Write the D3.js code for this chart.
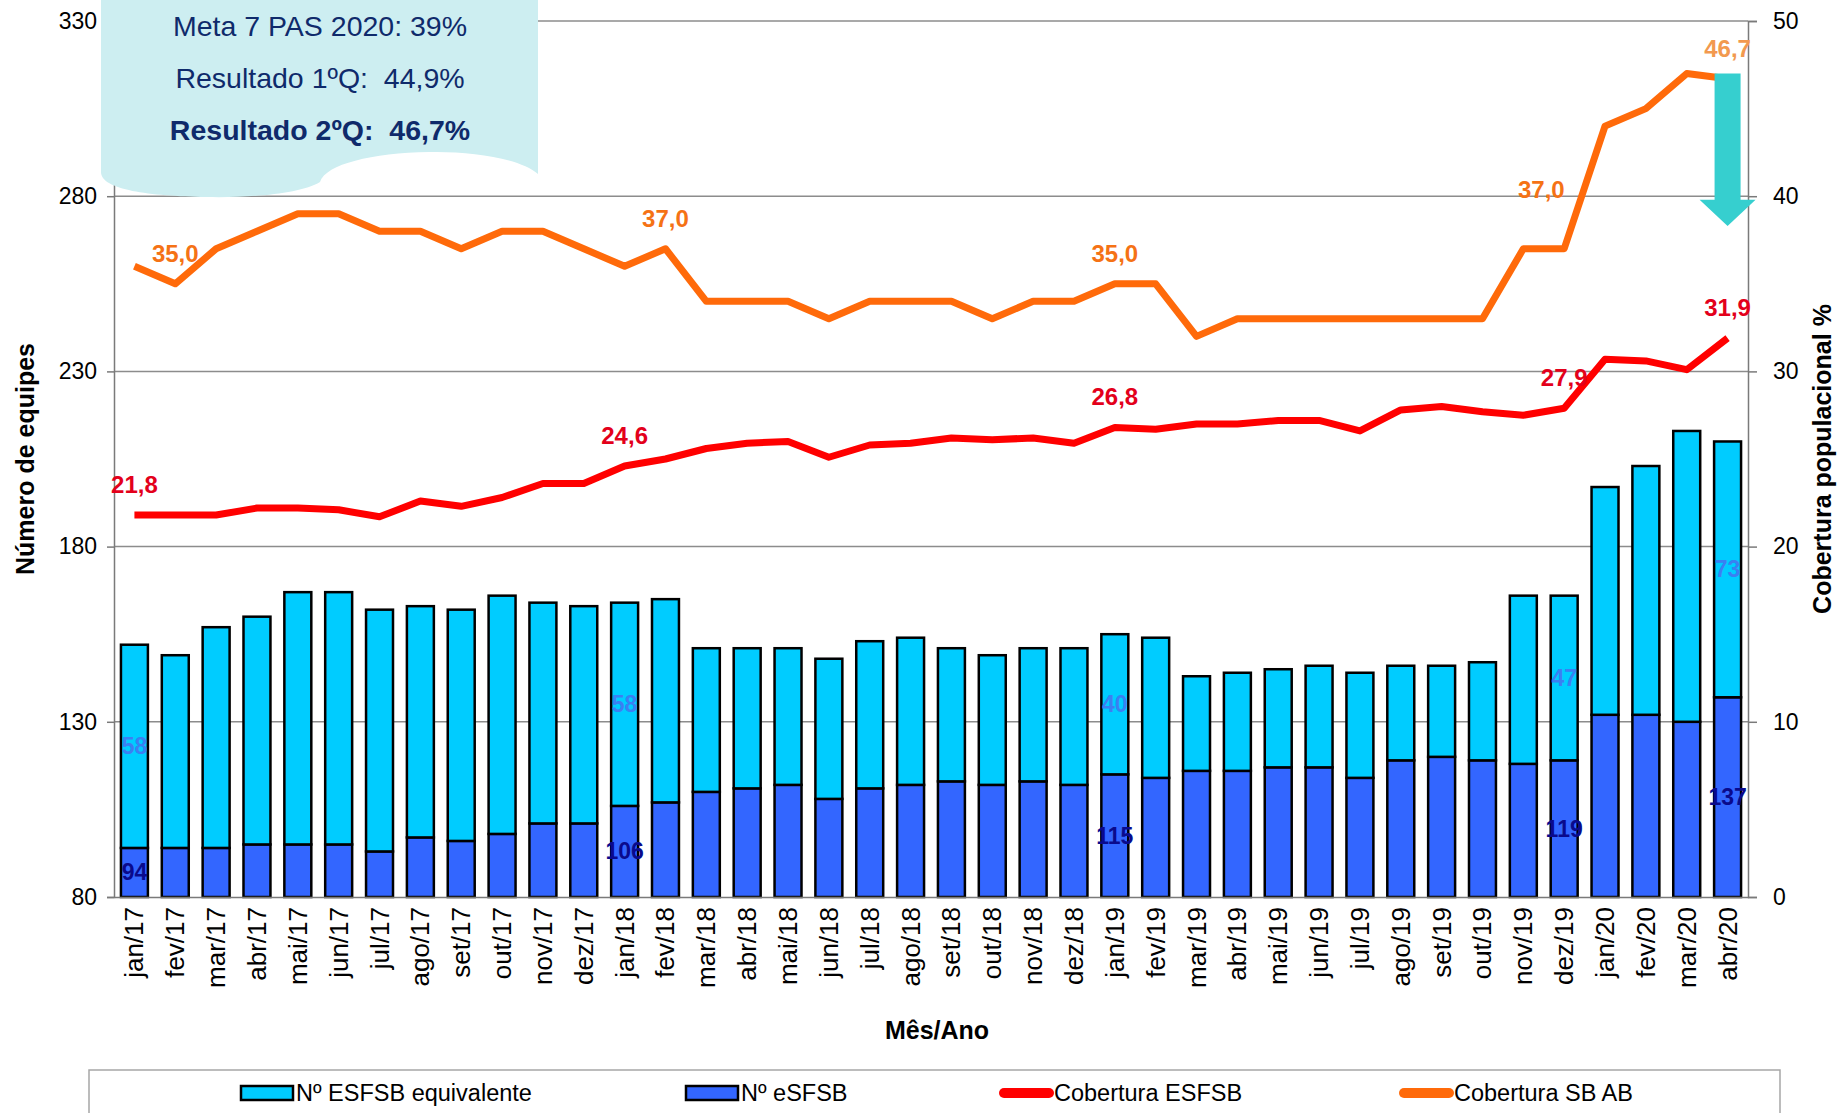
<!DOCTYPE html>
<html>
<head>
<meta charset="utf-8">
<title>Equipes e cobertura</title>
<script src="https://cdn.jsdelivr.net/npm/d3@7/dist/d3.min.js"></script>
<style>
  body { margin: 0; background: #fff; }
  svg { display: block; font-family: "Liberation Sans", Arial, sans-serif; }
</style>
</head>
<body>
<svg width="1843" height="1113" id="mainsvg"></svg>
<script>
// data
const months = ['jan/17','fev/17','mar/17','abr/17','mai/17','jun/17','jul/17','ago/17','set/17','out/17','nov/17','dez/17',
  'jan/18','fev/18','mar/18','abr/18','mai/18','jun/18','jul/18','ago/18','set/18','out/18','nov/18','dez/18',
  'jan/19','fev/19','mar/19','abr/19','mai/19','jun/19','jul/19','ago/19','set/19','out/19','nov/19','dez/19',
  'jan/20','fev/20','mar/20','abr/20'];
const nEsfsb = [94,94,94,95,95,95,93,97,96,98,101,101,106,107,110,111,112,108,111,112,113,112,113,112,
  115,114,116,116,117,117,114,119,120,119,118,119,132,132,130,137];
const nEquivalente = [58,55,63,65,72,72,69,66,66,68,63,62,58,58,41,40,39,40,42,42,38,37,38,39,
  40,40,27,28,28,29,30,27,26,28,48,47,65,71,83,73];
const cobEsfsb = [21.8,21.8,21.8,22.2,22.2,22.1,21.7,22.6,22.3,22.8,23.6,23.6,24.6,25.0,25.6,25.9,26.0,25.1,25.8,25.9,26.2,26.1,26.2,25.9,
  26.8,26.7,27.0,27.0,27.2,27.2,26.6,27.8,28.0,27.7,27.5,27.9,30.7,30.6,30.1,31.9];
const cobSbAb = [36,35,37,38,39,39,38,38,37,38,38,37,36,37,34,34,34,33,34,34,34,33,34,34,
  35,35,32,33,33,33,33,33,33,33,37,37,44,45,47,46.7];
const leftTicks = [80,130,180,230,280,330];
const rightTicks = [0,10,20,30,40,50];
const barLabelIdx = [0,12,24,35,39];
const esfsbLabelIdx = [0,12,24,35,39];
const sbAbLabelIdx = [1,13,24,34,39];
const calloutLines = ['Meta 7 PAS 2020: 39%', 'Resultado 1ºQ:  44,9%', 'Resultado 2ºQ:  46,7%'];
const legendItems = ['Nº ESFSB equivalente', 'Nº eSFSB', 'Cobertura ESFSB', 'Cobertura SB AB'];

const svg = d3.select('svg');
const margin = { top: 21, right: 95, bottom: 216, left: 114 };
const width = +svg.attr('width');
const height = +svg.attr('height');
const innerWidth = width - margin.left - margin.right;
const innerHeight = height - margin.top - margin.bottom;
const g = svg.append('g').attr('transform', `translate(${margin.left},${margin.top})`);

const xScale = d3.scaleBand().domain(months).range([0, innerWidth]).paddingInner(0.34).paddingOuter(0.17);
const yLeft = d3.scaleLinear().domain([80, 330]).range([innerHeight, 0]);
const yRight = d3.scaleLinear().domain([0, 50]).range([innerHeight, 0]);
const cx = d => xScale(d) + xScale.bandwidth() / 2;
const ptBr = d3.formatLocale({ decimal: ',', thousands: '.', grouping: [3], currency: ['R$', ''] });
const fmt1 = ptBr.format('.1f');

// gridlines
g.append('g').selectAll('line').data(leftTicks.slice(1)).join('line')
  .attr('x1', 0).attr('x2', innerWidth)
  .attr('y1', d => yLeft(d)).attr('y2', d => yLeft(d))
  .attr('stroke', '#8c8c8c').attr('stroke-width', 1.5);

// stacked bars
const rows = months.map((m, i) => ({ month: m, esfsb: nEsfsb[i], equiv: nEquivalente[i] }));
const stacked = d3.stack().keys(['esfsb', 'equiv'])(rows);
const barColors = { esfsb: '#3366FF', equiv: '#00CCFF' };
g.append('g').selectAll('g').data(stacked).join('g')
  .attr('fill', d => barColors[d.key])
  .selectAll('rect').data(d => d).join('rect')
  .attr('x', d => xScale(d.data.month))
  .attr('width', xScale.bandwidth())
  .attr('y', d => yLeft(d[1]))
  .attr('height', d => yLeft(Math.max(d[0], 80)) - yLeft(d[1]))
  .attr('stroke', '#000').attr('stroke-width', 2.5);

// bar labels, centred in the visible part of each segment
const barLab = g.append('g').attr('font-weight', 'bold').attr('font-size', 23).attr('text-anchor', 'middle');
barLabelIdx.forEach(i => {
  const base = nEsfsb[i];
  barLab.append('text').attr('x', cx(months[i]))
    .attr('y', yLeft((80 + base) / 2) + 8).attr('fill', '#0a0a8c').text(base);
  barLab.append('text').attr('x', cx(months[i]))
    .attr('y', yLeft(base + nEquivalente[i] / 2) + 8).attr('fill', '#3a80f2').text(nEquivalente[i]);
});

// axes
const axL = g.append('g').call(d3.axisLeft(yLeft).tickValues(leftTicks).tickSize(7).tickPadding(10));
const axR = g.append('g').attr('transform', `translate(${innerWidth},0)`)
  .call(d3.axisRight(yRight).tickValues(rightTicks).tickSize(9).tickPadding(16));
const axB = g.append('g').attr('transform', `translate(0,${innerHeight})`)
  .call(d3.axisBottom(xScale).tickSize(0).tickPadding(10));
[axL, axR, axB].forEach(a => {
  a.selectAll('path, line').attr('stroke', '#7a7a7a').attr('stroke-width', 1.5);
  a.selectAll('text').attr('font-size', 23).attr('fill', '#000').attr('font-family', '"Liberation Sans", Arial, sans-serif');
});
axB.selectAll('text').attr('font-size', 26)
  .attr('transform', 'rotate(-90)').attr('text-anchor', 'end')
  .attr('dx', 0).attr('dy', 0).attr('x', -10).attr('y', 0)
  .attr('dominant-baseline', 'central');

// lines
const lineGen = ys => d3.line().x((d, i) => cx(months[i])).y(d => ys(d));
g.append('path').datum(cobEsfsb).attr('d', lineGen(yRight))
  .attr('fill', 'none').attr('stroke', '#FF0000').attr('stroke-width', 7).attr('stroke-linejoin', 'round');
g.append('path').datum(cobSbAb).attr('d', lineGen(yRight))
  .attr('fill', 'none').attr('stroke', '#FF6A0A').attr('stroke-width', 7).attr('stroke-linejoin', 'round');

// line labels
const lineLab = g.append('g').attr('font-weight', 'bold').attr('font-size', 24).attr('text-anchor', 'middle');
esfsbLabelIdx.forEach(i => {
  lineLab.append('text').attr('x', cx(months[i])).attr('y', yRight(cobEsfsb[i]) - 22)
    .attr('fill', '#E3001B').text(fmt1(cobEsfsb[i]));
});
sbAbLabelIdx.forEach(i => {
  const far = i === 34;
  lineLab.append('text').attr('x', cx(months[i]) + (far ? 18 : 0))
    .attr('y', yRight(cobSbAb[i]) - (far ? 51 : 22))
    .attr('fill', i === 39 ? '#F2994F' : '#F57215').text(fmt1(cobSbAb[i]));
});

// arrow at the last month
const ax = cx(months[39]);
const aTop = yRight(47), aNeck = yRight(39.8), aTip = yRight(38.3);
g.append('path')
  .attr('d', `M${ax - 13},${aTop} H${ax + 13} V${aNeck} H${ax + 28} L${ax},${aTip} L${ax - 28},${aNeck} H${ax - 13} Z`)
  .attr('fill', '#36CFCF');

// axis titles
svg.append('text').attr('transform', `translate(34,${margin.top + innerHeight / 2}) rotate(-90)`)
  .attr('text-anchor', 'middle').attr('font-weight', 'bold').attr('font-size', 25).text('Número de equipes');
svg.append('text').attr('transform', `translate(1831,${margin.top + innerHeight / 2}) rotate(-90)`)
  .attr('text-anchor', 'middle').attr('font-weight', 'bold').attr('font-size', 25).text('Cobertura populacional %');
svg.append('text').attr('x', 937).attr('y', 1039)
  .attr('text-anchor', 'middle').attr('font-weight', 'bold').attr('font-size', 25).text('Mês/Ano');

// callout
svg.append('path')
  .attr('d', 'M101,0 H538 V174 C520,158 470,151 429,152 C372,153 326,164 320,182 C300,194 250,198 206,197 C150,196 101,190 101,172 Z')
  .attr('fill', '#CDEEF1');
svg.append('g').attr('text-anchor', 'middle').attr('fill', '#0F2A6B').attr('font-size', 28.5)
  .selectAll('text').data(calloutLines).join('text')
  .attr('x', 320).attr('y', (d, i) => 36 + i * 52)
  .attr('font-weight', (d, i) => i === 2 ? 'bold' : 'normal')
  .attr('xml:space', 'preserve').style('white-space', 'pre')
  .text(d => d);

// legend
svg.append('rect').attr('x', 89).attr('y', 1070).attr('width', 1691).attr('height', 60)
  .attr('fill', '#fff').attr('stroke', '#a6a6a6').attr('stroke-width', 1.5);
const legendX = [241, 686, 999, 1399];
const leg = svg.append('g').attr('font-size', 23.5);
legendItems.forEach((name, i) => {
  const x0 = legendX[i];
  if (i < 2) {
    leg.append('rect').attr('x', x0).attr('y', 1086).attr('width', 52).attr('height', 14)
      .attr('fill', i === 0 ? '#00CCFF' : '#3366FF').attr('stroke', '#000').attr('stroke-width', 2.5);
  } else {
    leg.append('line').attr('x1', x0 + 5).attr('x2', x0 + 50).attr('y1', 1093).attr('y2', 1093)
      .attr('stroke', i === 2 ? '#FF0000' : '#FF6A0A').attr('stroke-width', 10).attr('stroke-linecap', 'round');
  }
  leg.append('text').attr('x', x0 + 55).attr('y', 1101).text(name);
});
</script>
</body>
</html>
